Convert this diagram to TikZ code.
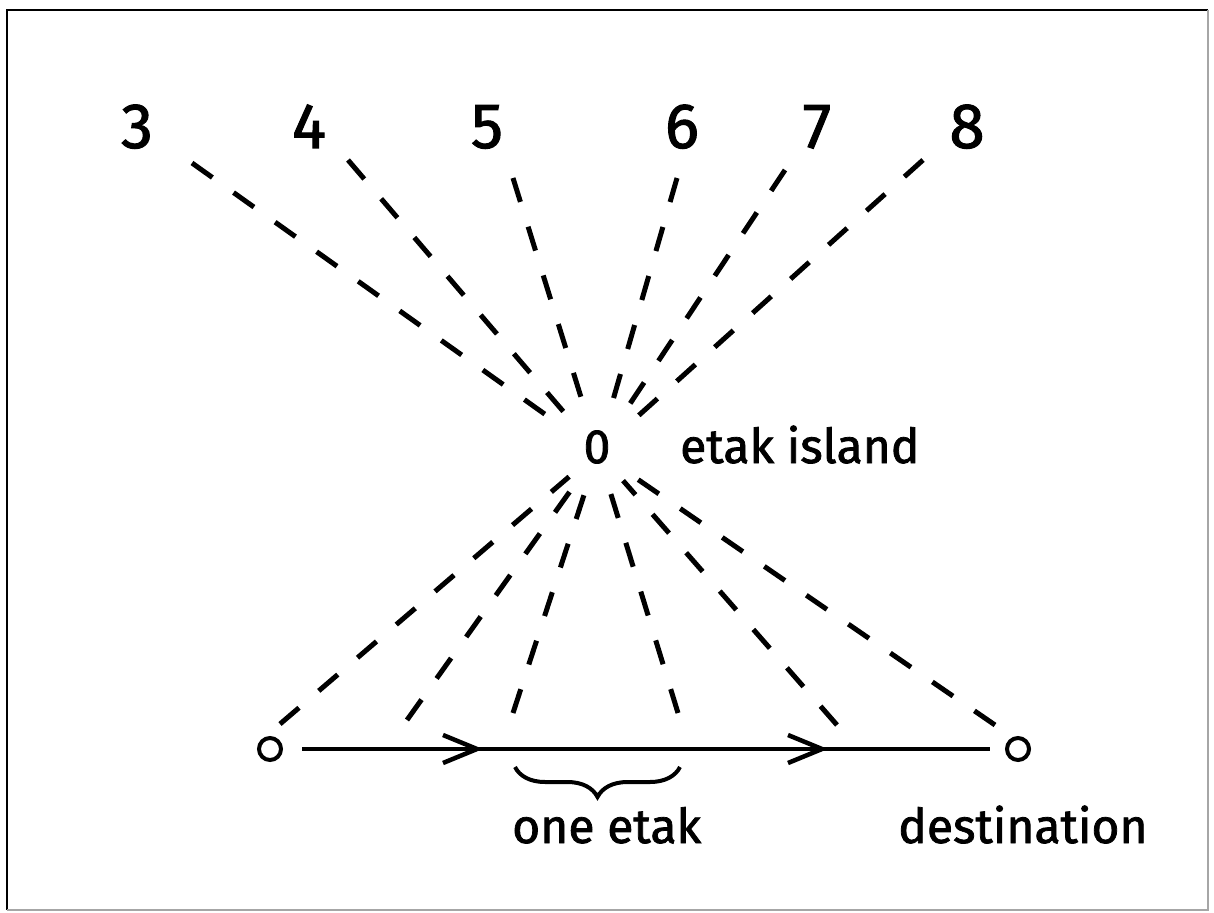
\documentclass[tikz,border=0pt]{standalone}
\usepackage{fontspec}
\setmainfont{Fira Sans}[BoldFont={Fira Sans}, BoldFeatures={FakeBold=1.6}]
\usetikzlibrary{calc,decorations.pathreplacing}
\begin{document}
\begin{tikzpicture}[x=1pt,y=-1pt,
  num/.style={inner sep=0pt, anchor=base, font=\fontsize{64}{70}\selectfont\bfseries},
  lbl/.style={inner sep=0pt, anchor=base west, font=\fontsize{48}{58}\selectfont\bfseries},
  ray/.style={line width=5pt, dash pattern=on 25pt off 26pt},
  posdot/.style={circle, draw, line width=4pt, minimum size=22pt, inner sep=0pt},
  axis/.style={line width=4.5pt},
  chev/.style={line width=4.5pt, line join=miter, line cap=butt}]
\useasboundingbox (0,0) rectangle (1214,912);
% frame
\draw[line width=2.5pt] (7,910) -- (7,10) -- (1208,10);
\draw[line width=1.5pt, black!35] (1208,10) -- (1208,910) -- (7,910);
% numbers
\node[num] (n3) at (137,148) {3};
\node[num] (n4) at (309,148) {4};
\node[num] (n5) at (487,148) {5};
\node[num] (n6) at (682,148) {6};
\node[num] (n7) at (817,148) {7};
\node[num] (n8) at (967,148) {8};
% island
\coordinate (I) at (598,452);
\node[inner sep=0pt, anchor=base, font=\fontsize{48}{52}\selectfont\bfseries] (isl) at (597,463) {0};
\node[lbl] (il) at (680,463) {etak island};
% ray ends
\coordinate (t3) at (192,163);
\coordinate (t4) at (348,160);
\coordinate (t5) at (513,178);
\coordinate (t6) at (677,178);
\coordinate (t7) at (785,170);
\coordinate (t8) at (923,160);
\coordinate (b8) at (280,724);
\coordinate (b7) at (407,720);
\coordinate (b6) at (513,713);
\coordinate (b5) at (678,713);
\coordinate (b4) at (837,725);
\coordinate (b3) at (995,725);
\foreach \k in {3,...,8}{
  \draw[ray] (t\k) -- ($(I)!42pt!(t\k)$);
  \draw[ray] (b\k) -- ($(I)!38pt!(b\k)$);
}
% course line
\node[posdot] (s) at (270,749) {};
\node[posdot] (d) at (1018,749) {};
\draw[axis, shorten <=19pt, shorten >=15pt] (s) -- (d);
\coordinate (a1) at (477,749);
\coordinate (a2) at (822,749);
\draw[chev] ($(a1)+(-34,-14)$) -- (a1) -- ($(a1)+(-34,14)$);
\draw[chev] ($(a2)+(-34,-14)$) -- (a2) -- ($(a2)+(-34,14)$);
% brace
\coordinate (br1) at (515,767);
\coordinate (br2) at (680,767);
\draw[line width=4pt, decorate, decoration={brace, mirror, amplitude=30pt}] (br1) -- (br2);
\node[lbl] (oe) at (512,843) {one etak};
\node[lbl] (de) at (898,843) {destination};
\end{tikzpicture}
\end{document}
